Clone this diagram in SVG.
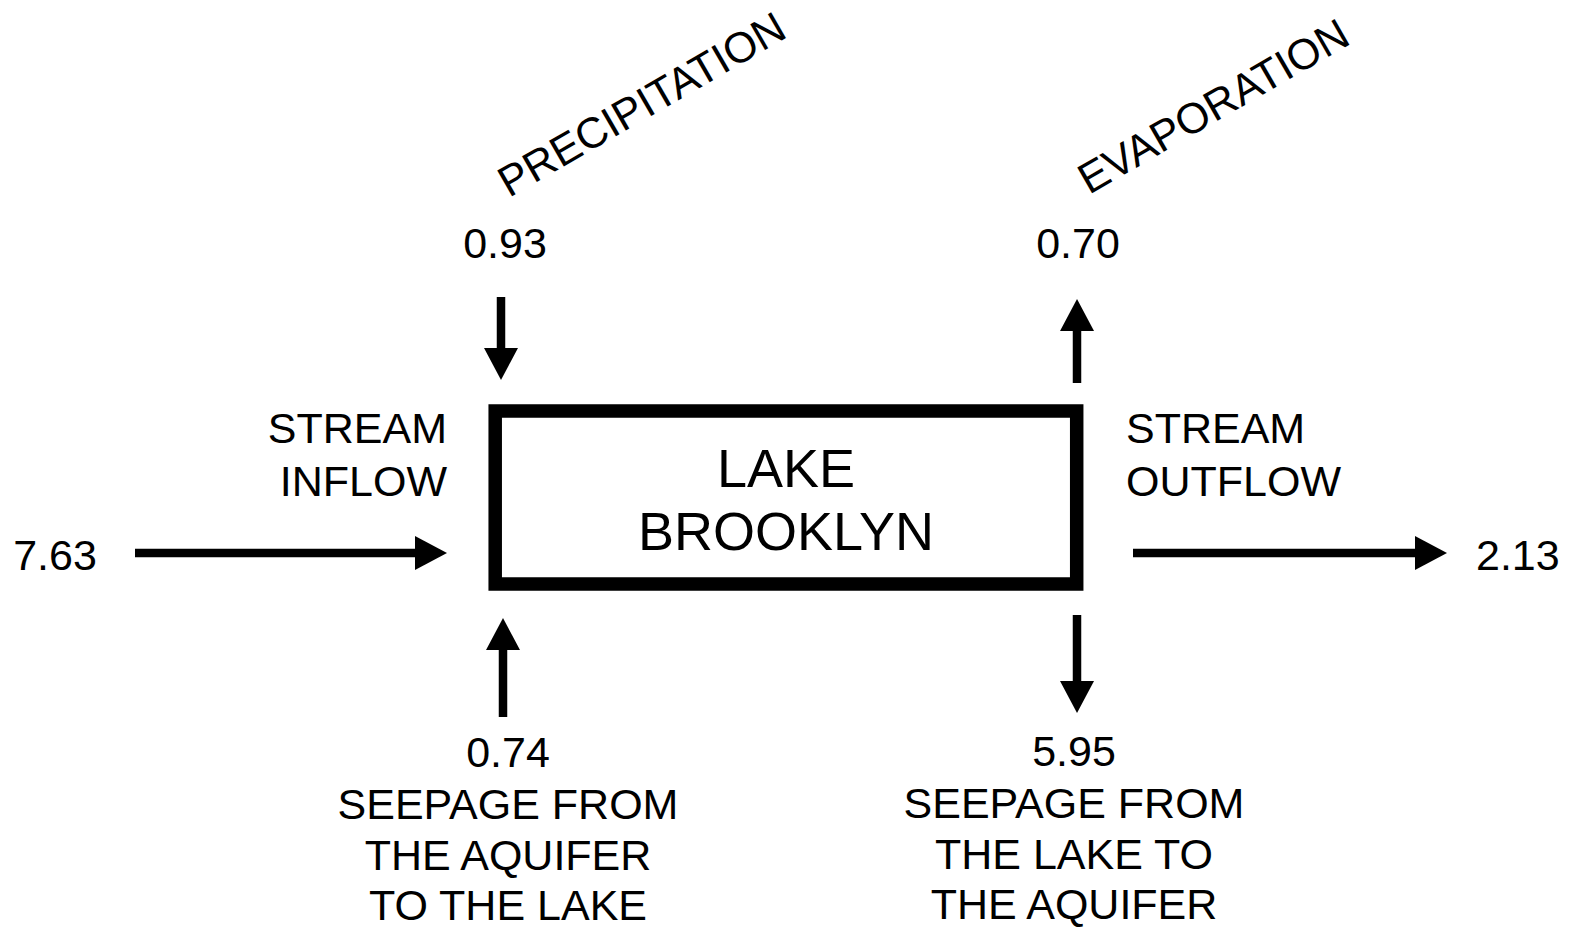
<svg xmlns="http://www.w3.org/2000/svg" width="1572" height="928" viewBox="0 0 1572 928">
<style>
text{font-family:"Liberation Sans",Arial,Helvetica,sans-serif;font-size:43px;fill:#000}
.big{font-size:54px}
.mid{text-anchor:middle}
.end{text-anchor:end}
.shaft{stroke:#000;stroke-width:8.5;fill:none;marker-end:url(#ah)}
</style>
<defs>
<marker id="ah" viewBox="0 0 32 34" refX="0" refY="17" markerWidth="32" markerHeight="34" markerUnits="userSpaceOnUse" orient="auto">
<path d="M0,0 L32,17 L0,34 Z" fill="#000"/>
</marker>
</defs>
<rect width="1572" height="928" fill="#fff"/>
<g id="lake">
<rect x="495.2" y="411" width="581.5" height="173" fill="none" stroke="#000" stroke-width="13.5"/>
<text class="big mid" x="786" y="487">LAKE</text>
<text class="big mid" x="786" y="550">BROOKLYN</text>
</g>
<g id="precipitation">
<text transform="translate(509,198) rotate(-30)">PRECIPITATION</text>
<text class="mid" x="505" y="258">0.93</text>
</g>
<g id="evaporation">
<text transform="translate(1089,195) rotate(-30)">EVAPORATION</text>
<text class="mid" x="1078" y="258">0.70</text>
</g>
<g id="stream-inflow">
<text class="end" x="447" y="443">STREAM</text>
<text class="end" x="447" y="496">INFLOW</text>
<text class="mid" x="55" y="570">7.63</text>
</g>
<g id="stream-outflow">
<text x="1126" y="443">STREAM</text>
<text x="1126" y="496">OUTFLOW</text>
<text x="1476" y="570">2.13</text>
</g>
<g id="seepage-in">
<text class="mid" x="508" y="767">0.74</text>
<text class="mid" x="508" y="819">SEEPAGE FROM</text>
<text class="mid" x="508" y="870">THE AQUIFER</text>
<text class="mid" x="508" y="920">TO THE LAKE</text>
</g>
<g id="seepage-out">
<text class="mid" x="1074" y="766">5.95</text>
<text class="mid" x="1074" y="818">SEEPAGE FROM</text>
<text class="mid" x="1074" y="869">THE LAKE TO</text>
<text class="mid" x="1074" y="919">THE AQUIFER</text>
</g>
<g id="connectors">
<line class="shaft" x1="501" y1="297" x2="501" y2="348"/>
<line class="shaft" x1="1077" y1="383" x2="1077" y2="331"/>
<line class="shaft" x1="135" y1="553" x2="415" y2="553"/>
<line class="shaft" x1="1133" y1="553" x2="1415" y2="553"/>
<line class="shaft" x1="503" y1="717" x2="503" y2="650"/>
<line class="shaft" x1="1077" y1="615" x2="1077" y2="681"/>
</g>
</svg>
